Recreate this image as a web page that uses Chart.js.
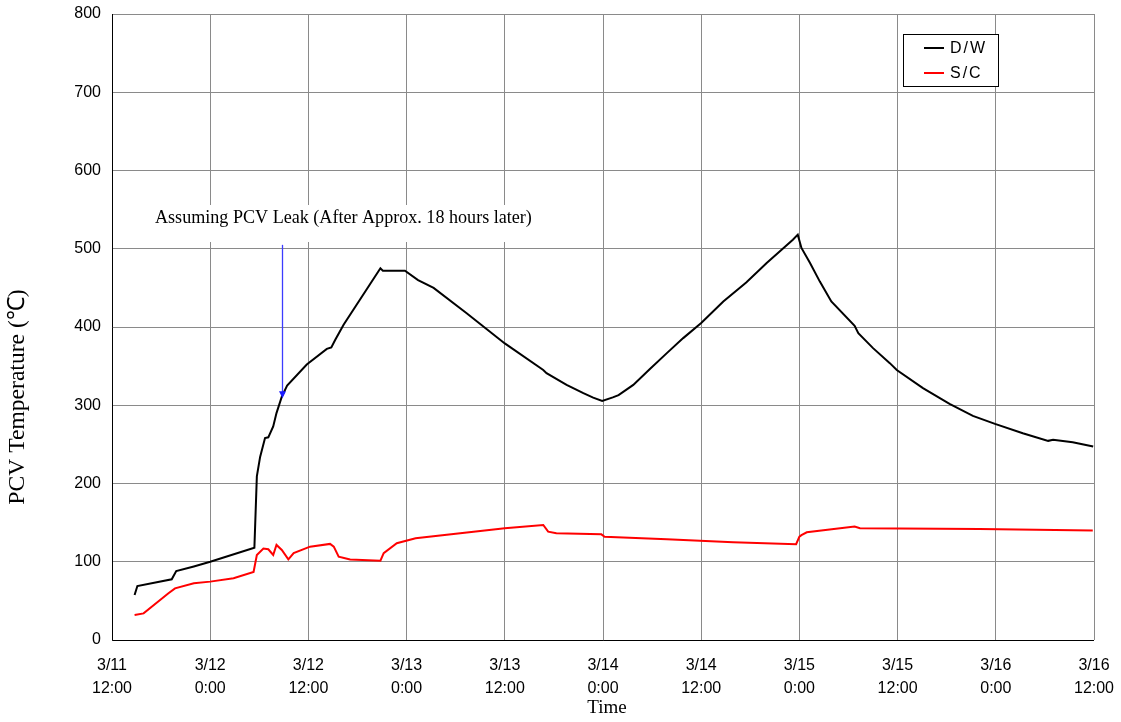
<!DOCTYPE html>
<html><head><meta charset="utf-8">
<script src="https://cdn.jsdelivr.net/npm/chart.js@4.4.1/dist/chart.umd.min.js"></script>
<style>html,body{margin:0;padding:0;background:#fff;}#wrap{width:1121px;height:722px;position:relative;}</style>
</head><body><div id="wrap"><canvas id="c" width="1121" height="722"></canvas></div>
<script>
// hours since 3/11 12:00
const tickLabels = [["3/11","12:00"],["3/12","0:00"],["3/12","12:00"],["3/13","0:00"],["3/13","12:00"],["3/14","0:00"],["3/14","12:00"],["3/15","0:00"],["3/15","12:00"],["3/16","0:00"],["3/16","12:00"]];
const dwHours = [2.76,3.1,7.3,7.85,10,12,17.4,17.7,18.1,18.7,19.1,19.7,20.1,20.75,21.4,23.8,26.25,26.8,27.3,28.3,32.8,33.1,35.8,37.4,39.3,43.3,48.0,52.7,53.1,55.55,57.6,58.8,59.9,61.2,61.9,63.7,65.7,67.8,69.8,72.0,74.7,77.5,80.0,83.2,83.8,84.25,85.3,86.5,87.9,90.75,91.2,93.0,95.05,95.9,99.1,102.35,105.2,107.9,111.3,114.4,115.0,117.4,119.9];
const dwTemps = [57.5,69,77.6,88,94,100,118,209,234,258,259,273,290,311,325,352,372,374,384,403,475,472,472,460,450,417.8,379,345,341,326,315.5,309.8,305.6,310,313,326,346,366.6,385.8,405,432.6,457,481.7,511.5,518,501,481.7,458,432.6,401.5,392,373,353.8,345,321.8,301.8,286.4,276.2,264.3,254.5,255.8,252.8,247.2];
const scHours = [2.76,3.86,6.9,7.7,10,12,14.85,17.3,17.7,18.5,19.1,19.7,20.1,20.75,21.55,22.2,24.2,26.65,27.1,27.7,29.1,32.8,33.2,34.8,37.1,48.0,52.7,53.3,54.3,59.8,60.2,67.8,75.9,83.6,84.0,84.25,84.9,90.75,91.4,106,119.85];
const scTemps = [32,34,59.7,66,72.5,74.6,79,87,108.7,117,116,108.7,121.5,115,103,111,119.3,122.8,119.3,106.5,103,101.4,111,123.6,130,142.8,147,138.5,136.4,135,132,128.7,125,122.4,132,134,137.7,145,142.8,142,139.8];
const seriesNames = ["D/W","S/C"];
const annotationText = "Assuming PCV Leak (After Approx. 18 hours later)";
const arrowHour = 20.76, arrowFrom = 505, arrowTo = 309;

const toXY = (hs, vs) => hs.map((h,i)=>({x:h,y:vs[i]}));
const noPad = s => { s.paddingTop = 0; s.paddingBottom = 0; s.paddingLeft = 0; s.paddingRight = 0; };

const overlay = {
  id:'overlay',
  beforeDatasetsDraw(chart){
    const ctx = chart.ctx;
    ctx.save(); ctx.fillStyle = '#fff'; ctx.fillRect(150, 205, 390, 37); ctx.restore();
  },
  afterDraw(chart){
    const ctx = chart.ctx, xs = chart.scales.x, ys = chart.scales.y, ca = chart.chartArea;
    ctx.save();
    // axis border
    ctx.strokeStyle = '#000'; ctx.lineWidth = 1;
    ctx.beginPath(); ctx.moveTo(ca.left+0.5, ca.top); ctx.lineTo(ca.left+0.5, ca.bottom+0.5); ctx.lineTo(ca.right, ca.bottom+0.5); ctx.stroke();
    // annotation text
    ctx.fillStyle = '#000'; ctx.textBaseline = 'middle'; ctx.textAlign = 'left';
    let fs = 15; ctx.font = fs+'px "Liberation Serif"';
    fs = fs * 377 / ctx.measureText(annotationText).width; ctx.font = fs.toFixed(2)+'px "Liberation Serif"';
    ctx.fillText(annotationText, 155, 218);
    // arrow
    const ax = Math.round(xs.getPixelForValue(arrowHour))+0.5, y1 = ys.getPixelForValue(arrowFrom), y2 = ys.getPixelForValue(arrowTo);
    ctx.strokeStyle = '#3c3cff'; ctx.fillStyle = '#1a1aff'; ctx.lineWidth = 1.3;
    ctx.beginPath(); ctx.moveTo(ax, y1); ctx.lineTo(ax, y2 - 6); ctx.stroke();
    ctx.beginPath(); ctx.moveTo(ax-3.5, y2-7); ctx.lineTo(ax+3.5, y2-7); ctx.lineTo(ax, y2); ctx.closePath(); ctx.fill();
    // y title
    ctx.fillStyle = '#000';
    const yt = "PCV Temperature (\u2103)";
    ctx.save(); ctx.translate(18, 397); ctx.rotate(-Math.PI/2);
    let f2 = 18; ctx.font = f2+'px "Liberation Serif"'; f2 = f2*216/ctx.measureText(yt).width; ctx.font = f2.toFixed(2)+'px "Liberation Serif"';
    ctx.textAlign = 'center'; ctx.textBaseline = 'middle'; ctx.fillText(yt, 0, 0); ctx.restore();
    // x title
    ctx.font = '19px "Liberation Serif"'; ctx.textAlign = 'center'; ctx.textBaseline = 'middle';
    ctx.fillText('Time', 607, 708);
    // legend
    ctx.fillStyle = '#fff'; ctx.fillRect(903.5, 34.5, 95, 52);
    ctx.strokeStyle = '#000'; ctx.lineWidth = 1; ctx.strokeRect(903.5, 34.5, 95, 52);
    const ly = [48, 73];
    chart.data.datasets.forEach((ds,i)=>{
      ctx.strokeStyle = ds.borderColor; ctx.lineWidth = 2;
      ctx.beginPath(); ctx.moveTo(924, ly[i]); ctx.lineTo(944, ly[i]); ctx.stroke();
      ctx.fillStyle = '#000'; ctx.font = '16px "Liberation Sans"'; ctx.textAlign = 'left'; ctx.textBaseline = 'middle';
      ctx.letterSpacing = '2px';
      ctx.fillText(ds.label, 950, ly[i]+1);
      ctx.letterSpacing = '0px';
    });
    ctx.restore();
  }
};

new Chart(document.getElementById('c'), {
  type:'line',
  data:{ datasets:[
    {label:seriesNames[0], data:toXY(dwHours,dwTemps), borderColor:'#000000', borderWidth:2, pointRadius:0, tension:0, fill:false},
    {label:seriesNames[1], data:toXY(scHours,scTemps), borderColor:'#ff0000', borderWidth:2, pointRadius:0, tension:0, fill:false}
  ]},
  options:{
    responsive:false, animation:false, devicePixelRatio:1,
    layout:{padding:{top:14,right:27,left:0,bottom:0}},
    plugins:{legend:{display:false}, tooltip:{enabled:false}},
    scales:{
      x:{type:'linear', min:0, max:120,
        afterFit(s){ s.height = 82; noPad(s); },
        grid:{color:'#8a8a8a', lineWidth:1, drawTicks:false},
        border:{display:false},
        ticks:{stepSize:12, autoSkip:false, maxRotation:0, padding:14, color:'#000',
          font:{family:'"Liberation Sans"', size:16, lineHeight:1.45},
          callback:(v)=> tickLabels[Math.round(v/12)] }
      },
      y:{min:0, max:800,
        afterFit(s){ s.width = 112; noPad(s); },
        grid:{color:'#8a8a8a', lineWidth:1, drawTicks:false},
        border:{display:false},
        ticks:{stepSize:100, padding:11, color:'#000', font:{family:'"Liberation Sans"', size:16}}
      }
    }
  },
  plugins:[overlay]
});
</script></body></html>
